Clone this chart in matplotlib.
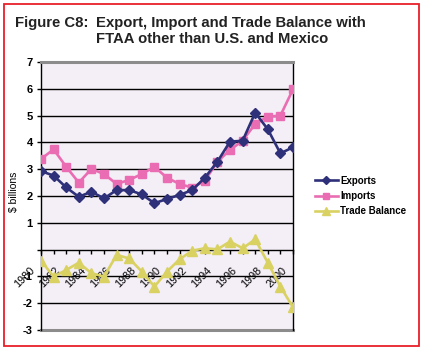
import matplotlib.pyplot as plt
from matplotlib.lines import Line2D
from matplotlib.patches import Rectangle
import matplotlib.transforms as mtransforms
import numpy as np

years = list(range(1980, 2001))
exports = [2.93, 2.76, 2.32, 1.97, 2.16, 1.91, 2.22, 2.22, 2.06, 1.73, 1.89,
           2.04, 2.22, 2.68, 3.28, 4.03, 4.06, 5.11, 4.49, 3.59, 3.82]
imports = [3.38, 3.74, 3.09, 2.50, 3.01, 2.82, 2.45, 2.60, 2.82, 3.09, 2.68,
           2.45, 2.31, 2.57, 3.28, 3.72, 4.06, 4.69, 4.96, 5.00, 5.98]
balance = [-0.41, -1.01, -0.76, -0.49, -0.88, -1.01, -0.20, -0.33, -0.82, -1.38, -0.82,
           -0.36, -0.04, 0.05, 0.01, 0.30, 0.05, 0.38, -0.49, -1.38, -2.15]
yticks = [7, 6, 5, 4, 3, 2, 1, 0, -1, -2, -3]

C_EXP = "#2E3079"
C_IMP = "#EA6DB3"
C_BAL = "#D9D263"

plt.rcParams["font.family"] = ["Liberation Sans", "DejaVu Sans"]

fig = plt.figure(figsize=(4.25, 3.52), dpi=100)
fig.patch.set_facecolor("white")

# red frame
fig.patches.append(Rectangle((4/425, 1-346/352), 415/425, 342/352, transform=fig.transFigure,
                             fill=False, edgecolor="#E8202A", linewidth=1.3))

fig.text(15/425, 1-27/352, "Figure C8:", fontsize=10.7, fontweight="bold", color="#222222")
fig.text(96/425, 1-27/352, "Export, Import and Trade Balance with", fontsize=10.7,
         fontweight="bold", color="#222222")
fig.text(96/425, 1-43/352, "FTAA other than U.S. and Mexico", fontsize=10.7,
         fontweight="bold", color="#222222")

ax = fig.add_axes([41/425, 1-330/352, 252/425, 268/352])
ax.set_facecolor("#F4EEF6")

x = np.arange(len(years))
ax.plot(x, exports, color=C_EXP, lw=1.9, marker="D", ms=4.8, label="Exports", zorder=4)
ax.plot(x, imports, color=C_IMP, lw=1.9, marker="s", ms=6.2, label="Imports", zorder=3)
ax.plot(x, balance, color=C_BAL, lw=1.9, marker="^", ms=6.5, label="Trade Balance", zorder=3)

ax.set_xlim(0, len(years) - 1)
ax.set_ylim(-3, 7)

for v in yticks:
    if v not in (7, -3, 0):
        ax.axhline(v, color="black", lw=1.0, zorder=1)
ax.axhline(-3, color="#8C8C8C", lw=2.2, clip_on=False, zorder=2)

ax.set_yticks(yticks)
ax.set_yticklabels([("" if v == 0 else str(v)) for v in yticks], fontsize=8, fontweight="bold")
ax.tick_params(axis="y", length=3, width=1, pad=3)

ax.spines["top"].set_color("#8C8C8C")
ax.spines["top"].set_linewidth(2.2)
ax.spines["bottom"].set_position(("data", 0))
ax.spines["bottom"].set_linewidth(1.0)
ax.spines["left"].set_linewidth(1.0)
ax.spines["right"].set_linewidth(1.0)

ax.set_xticks(x)
ax.set_xticklabels([str(y) if y % 2 == 0 else "" for y in years], rotation=45,
                   ha="right", va="top", fontsize=7.8)
ax.tick_params(axis="x", length=3, width=1, direction="out", pad=1)
offset = mtransforms.ScaledTranslation(-4/100, -10/100, fig.dpi_scale_trans)
for lab in ax.get_xticklabels():
    lab.set_transform(lab.get_transform() + offset)

fig.text(14/425, 1-192/352, "$ billions", rotation=90, ha="center", va="center", fontsize=7.5)

handles = [Line2D([], [], color=C_EXP, lw=1.9, marker="D", ms=4),
           Line2D([], [], color=C_IMP, lw=1.9, marker="s", ms=5),
           Line2D([], [], color=C_BAL, lw=1.9, marker="^", ms=5.5)]
fig.legend(handles, ["Exports", "Imports", "Trade Balance"], loc="center left",
           bbox_to_anchor=(306/425, 1-196/352), frameon=False, handlelength=2.4,
           handletextpad=0.2, labelspacing=0.55, prop={"size": 7, "weight": "bold"})

fig.savefig("out.png", dpi=100)
